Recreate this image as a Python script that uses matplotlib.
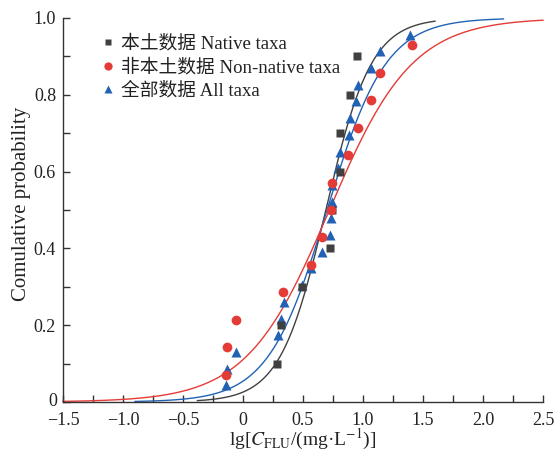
import numpy as np
import matplotlib
matplotlib.use("Agg")
import matplotlib.pyplot as plt
from matplotlib.ticker import MultipleLocator, FuncFormatter

plt.rcParams['font.family'] = ['Liberation Serif', 'Noto Sans CJK SC', 'DejaVu Sans']
plt.rcParams['mathtext.fontset'] = 'stix'

# Data (lg concentration, cumulative probability)
native_x = [0.28, 0.32, 0.49, 0.725, 0.745, 0.81, 0.81, 0.89, 0.95]
native_p = [0.1, 0.2, 0.3, 0.4, 0.5, 0.6, 0.7, 0.8, 0.9]

nonnative_x = [-0.145, -0.13, -0.06, 0.33, 0.57, 0.66, 0.73, 0.74, 0.875, 0.96, 1.07, 1.14, 1.41]
nonnative_p = [0.071, 0.143, 0.214, 0.286, 0.357, 0.429, 0.5, 0.571, 0.643, 0.714, 0.786, 0.857, 0.929]

all_x = [-0.145, -0.13, -0.06, 0.29, 0.32, 0.34, 0.49, 0.57, 0.66, 0.725, 0.73, 0.74, 0.74,
         0.795, 0.81, 0.88, 0.89, 0.945, 0.96, 1.07, 1.14, 1.39]
all_p = [0.043, 0.087, 0.130, 0.174, 0.217, 0.261, 0.304, 0.348, 0.391, 0.435, 0.478, 0.522,
         0.565, 0.609, 0.652, 0.696, 0.739, 0.783, 0.826, 0.870, 0.913, 0.957]

# Fitted log-logistic curves (location, scale, x-range)
fit_native = (0.69, 0.19, -0.38, 1.60)
fit_nonnative = (0.72, 0.345, -1.5, 2.5)
fit_all = (0.70, 0.245, -0.90, 2.17)

c_native = '#404040'
c_nonnative = '#e43b37'
c_all = '#2262b4'

fig = plt.figure(figsize=(5.56, 4.53), dpi=100)
ax = fig.add_axes([63/556, 1-402/453, 480/556, 384/453])


def curve(params, color):
    m, s, x0, x1 = params
    x = np.linspace(x0, x1, 400)
    y = 1.0 / (1.0 + np.exp(-(x - m) / s))
    ax.plot(x, y, color=color, lw=1.0, zorder=2, clip_on=False)


curve(fit_native, c_native)
curve(fit_all, c_all)
curve(fit_nonnative, c_nonnative)

h_all = ax.plot(all_x, all_p, '^', color=c_all, ms=7.5, mec='none', zorder=3,
                label='全部数据 All taxa')[0]
h_nat = ax.plot(native_x, native_p, 's', color=c_native, ms=5.8, mec='none', zorder=4,
                label='本土数据 Native taxa')[0]
h_non = ax.plot(nonnative_x, nonnative_p, 'o', color=c_nonnative, ms=7, mec='none', zorder=5,
                label='非本土数据 Non-native taxa')[0]

ax.set_xlim(-1.5, 2.5)
ax.set_ylim(0, 1.0)
ax.spines['top'].set_visible(False)
ax.spines['right'].set_visible(False)
for sp in ('left', 'bottom'):
    ax.spines[sp].set_color('#333333')
    ax.spines[sp].set_linewidth(1.0)

ax.xaxis.set_major_locator(MultipleLocator(0.5))
ax.xaxis.set_minor_locator(MultipleLocator(0.25))
ax.yaxis.set_major_locator(MultipleLocator(0.2))
ax.yaxis.set_minor_locator(MultipleLocator(0.1))


def fmt_x(v, pos):
    if abs(v) < 1e-9:
        return '0'
    return ('%.1f' % v).replace('-', '\u2212')


def fmt_y(v, pos):
    if abs(v) < 1e-9:
        return ''
    return '%.1f' % v


ax.xaxis.set_major_formatter(FuncFormatter(fmt_x))
ax.yaxis.set_major_formatter(FuncFormatter(fmt_y))
ax.tick_params(which='both', direction='in', length=5, width=1.0, color='#333333',
               labelsize=13, labelcolor='#222222')
ax.tick_params(axis='x', pad=7)
ax.tick_params(axis='y', pad=5)

# y-axis zero label
ax.annotate('0', xy=(0, 0), xycoords='axes fraction', xytext=(-6, 0),
            textcoords='offset pixels', ha='right', va='center', fontsize=13, color='#222222')

ax.set_xlabel(r'lg[$\mathit{C}_{\mathrm{FLU}}$/(mg·L$^{-1}$)]', fontsize=14, color='#222222', labelpad=-1)
ax.set_ylabel('Comulative probability', fontsize=15, color='#222222')
ax.yaxis.set_label_coords(-0.066, 0.515)

leg = ax.legend(handles=[h_nat, h_non, h_all], loc='upper left',
                bbox_to_anchor=(0.065, 0.975), frameon=False, fontsize=13.5,
                handlelength=0.7, handletextpad=0.35, labelspacing=0.3,
                borderaxespad=0.0, markerscale=0.85)
for t in leg.get_texts():
    t.set_color('#222222')

fig.savefig('out.png', dpi=100)
